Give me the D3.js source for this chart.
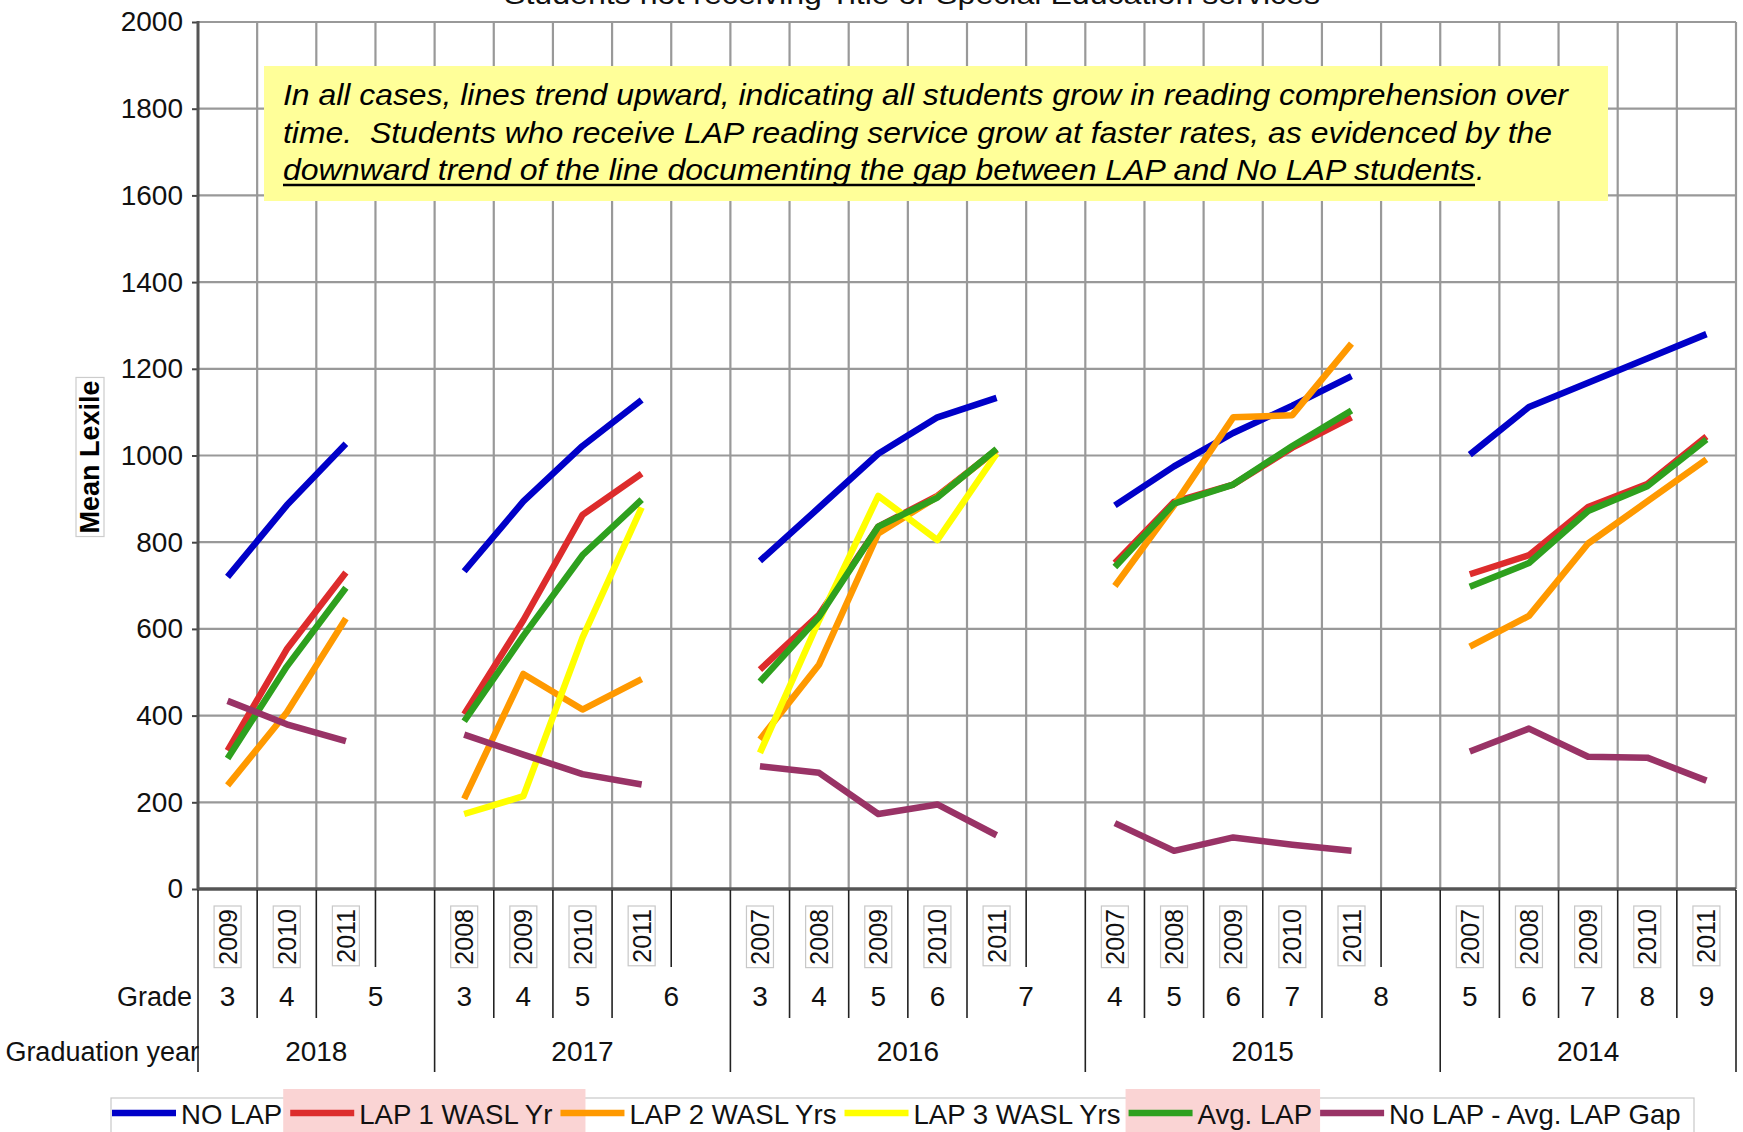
<!DOCTYPE html>
<html><head><meta charset="utf-8">
<script src="https://cdn.jsdelivr.net/npm/d3@7"></script>
<style>
body{margin:0;background:#fff;}
svg{display:block;font-family:"Liberation Sans",Arial,sans-serif;}
</style>
</head><body>
<svg id="c" width="1743" height="1132"></svg>
<script>
// ---------- DATA ----------
const catGradYear = [2018,2018,2018,2018, 2017,2017,2017,2017,2017, 2016,2016,2016,2016,2016,2016, 2015,2015,2015,2015,2015,2015, 2014,2014,2014,2014,2014];
const catGrade    = [3,4,5,5, 3,4,5,6,6, 3,4,5,6,7,7, 4,5,6,7,8,8, 5,6,7,8,9];
const catYear     = ["2009","2010","2011","", "2008","2009","2010","2011","", "2007","2008","2009","2010","2011","", "2007","2008","2009","2010","2011","", "2007","2008","2009","2010","2011"];

const noLap  = [720,885,1027,null, 733,894,1022,1128,null, 757,880,1004,1088,1133,null, 885,975,1052,1115,1183,null, 1002,1112,1168,1224,1280];
const lap1   = [319,553,730,null, 403,620,863,958,null, 506,633,836,907,1013,null, 752,893,933,1018,1088,null, 726,770,881,934,1044];
const lap2   = [239,407,624,null, 208,496,414,484,null, 345,518,820,905,1013,null, 699,885,1088,1093,1258,null, 559,630,797,894,991];
const lap3   = [null,null,null,null, 173,214,580,880,null, 314,620,907,805,1004,null, null,null,null,null,null,null, null,null,null,null,null];
const avgLap = [301,513,695,null, 387,584,770,898,null, 478,628,836,903,1015,null, 743,889,933,1022,1104,null, 697,752,872,929,1037];
const gapLap = [434,380,341,null, 356,310,265,241,null, 283,268,173,195,124,null, 152,88,119,102,88,null, 317,370,305,303,250];

const seriesNames  = ["NO LAP","LAP 1 WASL Yr","LAP 2 WASL Yrs","LAP 3 WASL Yrs","Avg. LAP","No LAP - Avg. LAP Gap"];
const seriesValues = [noLap, lap1, lap2, lap3, avgLap, gapLap];
const seriesColors = ["#0000C8","#DD2C2C","#FF9900","#FFFF00","#2EA01E","#993366"];

const yTicks = [0,200,400,600,800,1000,1200,1400,1600,1800,2000];
const titleText = "Students not receiving Title or Special Education services";
const yTitle = "Mean Lexile";
const noteLines = [
  "In all cases, lines trend upward, indicating all students grow in reading comprehension over",
  "time.  Students who receive LAP reading service grow at faster rates, as evidenced by the",
  "downward trend of the line documenting the gap between LAP and No LAP students"
];

// ---------- LAYOUT ----------
const svg = d3.select("#c");
const L = 198, R = 1736, T = 22, B = 889;
const n = catYear.length;
const x = d3.scaleBand().domain(d3.range(n)).range([L, R]).paddingInner(0).paddingOuter(0);
const bw = x.bandwidth();
const cx = i => x(i) + bw / 2;
const bx = b => b >= n ? R : x(b);
const y = d3.scaleLinear().domain([0, 2000]).range([B, T]);

// title (clipped at top, as in the original)
svg.append("text").attr("x", 912).attr("y", 4).attr("text-anchor", "middle")
  .attr("font-size", 28).attr("textLength", 816).attr("lengthAdjust", "spacingAndGlyphs")
  .attr("fill", "#111").text(titleText);

// horizontal gridlines
svg.append("g").selectAll("line").data(yTicks.filter(v => v > 0)).join("line")
  .attr("x1", L).attr("x2", R).attr("y1", d => y(d)).attr("y2", d => y(d))
  .attr("stroke", "#999").attr("stroke-width", 2.2);

// vertical gridlines at category boundaries
svg.append("g").selectAll("line").data(d3.range(1, n + 1)).join("line")
  .attr("x1", d => bx(d)).attr("x2", d => bx(d)).attr("y1", T).attr("y2", B)
  .attr("stroke", "#999").attr("stroke-width", 2.2);

// y axis with ticks + labels
const yAxis = d3.axisLeft(y).tickValues(yTicks).tickSize(6).tickPadding(9).tickFormat(d3.format("d"));
const gy = svg.append("g").attr("transform", `translate(${L},0)`).call(yAxis);
gy.select(".domain").remove();
gy.selectAll(".tick line").attr("stroke", "#444").attr("stroke-width", 2);
gy.selectAll(".tick text").attr("font-size", 28).attr("fill", "#111")
  .attr("font-family", "Liberation Sans, Arial, sans-serif");
svg.append("line").attr("x1", L).attr("x2", L).attr("y1", T - 1).attr("y2", B)
  .attr("stroke", "#555").attr("stroke-width", 3);

// y-axis title with light box
const yt = svg.append("g").attr("transform", "translate(90,457) rotate(-90)");
const ytText = yt.append("text").attr("text-anchor", "middle").attr("dominant-baseline", "central")
  .attr("font-size", 27).attr("font-weight", "bold").attr("fill", "#000").text(yTitle);
const ytLen = ytText.node().getComputedTextLength();
yt.insert("rect", "text").attr("x", -ytLen / 2 - 3).attr("y", -14).attr("width", ytLen + 6).attr("height", 28)
  .attr("fill", "#fff").attr("stroke", "#ccc").attr("stroke-width", 1.2);

// annotation box
svg.append("rect").attr("x", 264).attr("y", 66).attr("width", 1344).attr("height", 135).attr("fill", "#FFFF99");
const noteBase = [105, 143, 180];
const noteWidths = [1285, 1269, 1192];
noteLines.forEach((t, i) => {
  svg.append("text").attr("x", 283).attr("y", noteBase[i]).attr("font-size", 30)
    .attr("font-style", "italic").attr("fill", "#000").style("white-space", "pre")
    .attr("textLength", noteWidths[i]).attr("lengthAdjust", "spacingAndGlyphs").text(t);
});
svg.append("text").attr("x", 1476).attr("y", noteBase[2]).attr("font-size", 30)
  .attr("font-style", "italic").attr("fill", "#000").text(".");
svg.append("line").attr("x1", 283).attr("x2", 1475).attr("y1", 185).attr("y2", 185)
  .attr("stroke", "#000").attr("stroke-width", 2.5);

// series lines
const line = d3.line().defined(d => d.v != null).x(d => cx(d.i)).y(d => y(d.v));
svg.append("g").selectAll("path").data(seriesValues).join("path")
  .attr("d", vals => line(vals.map((v, i) => ({ i, v }))))
  .attr("fill", "none")
  .attr("stroke", (d, k) => seriesColors[k])
  .attr("stroke-width", 6.5).attr("stroke-linejoin", "round").attr("stroke-linecap", "butt");

// x axis line
svg.append("line").attr("x1", L).attr("x2", R).attr("y1", B).attr("y2", B)
  .attr("stroke", "#555").attr("stroke-width", 3.5);

// hierarchical category separators
const sepY = b => {
  if (b <= 0 || b >= n) return 1072;
  if (catGradYear[b] !== catGradYear[b - 1]) return 1072;
  if (catGrade[b] !== catGrade[b - 1]) return 1018;
  return 967;
};
svg.append("g").selectAll("line").data(d3.range(0, n + 1)).join("line")
  .attr("x1", d => bx(d)).attr("x2", d => bx(d)).attr("y1", B + 1).attr("y2", d => sepY(d))
  .attr("stroke", "#222").attr("stroke-width", 1.6);

// year labels (rotated, boxed)
const yl = svg.append("g").selectAll("g").data(d3.range(n).filter(i => catYear[i] !== "")).join("g")
  .attr("transform", i => `translate(${cx(i)},909) rotate(-90)`);
yl.append("text").attr("text-anchor", "end").attr("dominant-baseline", "central")
  .attr("font-size", 25).attr("fill", "#111").text(i => catYear[i]);
yl.each(function () {
  const g = d3.select(this);
  const len = g.select("text").node().getComputedTextLength();
  g.insert("rect", "text").attr("x", -len - 3).attr("y", -13.5).attr("width", len + 6).attr("height", 27)
    .attr("fill", "#fff").attr("stroke", "#c8c8c8").attr("stroke-width", 1.2);
});

// grade / graduation-year labels
const runs = keyFn => {
  const out = [];
  for (let i = 0; i < n; i++) {
    if (i > 0 && keyFn(i) === keyFn(i - 1)) out[out.length - 1].end = i;
    else out.push({ start: i, end: i });
  }
  return out;
};
const gradeRuns = runs(i => catGradYear[i] + "-" + catGrade[i]);
svg.append("g").selectAll("text").data(gradeRuns).join("text")
  .attr("x", d => (bx(d.start) + bx(d.end + 1)) / 2).attr("y", 1006)
  .attr("text-anchor", "middle").attr("font-size", 28).attr("fill", "#111")
  .text(d => catGrade[d.start]);
const gyRuns = runs(i => catGradYear[i]);
svg.append("g").selectAll("text").data(gyRuns).join("text")
  .attr("x", d => (bx(d.start) + bx(d.end + 1)) / 2).attr("y", 1061)
  .attr("text-anchor", "middle").attr("font-size", 28).attr("fill", "#111")
  .text(d => catGradYear[d.start]);
svg.append("text").attr("x", 192).attr("y", 1006).attr("text-anchor", "end")
  .attr("font-size", 27).attr("fill", "#111").text("Grade");
svg.append("text").attr("x", 199).attr("y", 1061).attr("text-anchor", "end")
  .attr("font-size", 27).attr("fill", "#111").text("Graduation year");

// legend
const lg = svg.append("g");
lg.append("rect").attr("x", 111).attr("y", 1098).attr("width", 1583).attr("height", 60)
  .attr("fill", "#fff").attr("stroke", "#c8c8c8").attr("stroke-width", 1.2);
const hl = lg.append("g");
const items = lg.append("g");
let cursor = 112;
const starts = [];
seriesNames.forEach((name, k) => {
  starts.push(cursor);
  items.append("line").attr("x1", cursor).attr("x2", cursor + 64).attr("y1", 1113).attr("y2", 1113)
    .attr("stroke", seriesColors[k]).attr("stroke-width", 6.5);
  const t = items.append("text").attr("x", cursor + 69).attr("y", 1124).attr("font-size", 27.6)
    .attr("fill", "#111").text(name);
  cursor += 69 + t.node().getComputedTextLength() + 8;
});
starts.push(cursor);
hl.append("rect").attr("x", starts[1] - 7).attr("y", 1089).attr("width", starts[2] + 25 - (starts[1] - 7)).attr("height", 60)
  .attr("fill", "#FAD4D4");
hl.append("rect").attr("x", starts[4] - 3).attr("y", 1089).attr("width", starts[5] - (starts[4] - 3)).attr("height", 60)
  .attr("fill", "#FAD4D4");
</script>
</body></html>
